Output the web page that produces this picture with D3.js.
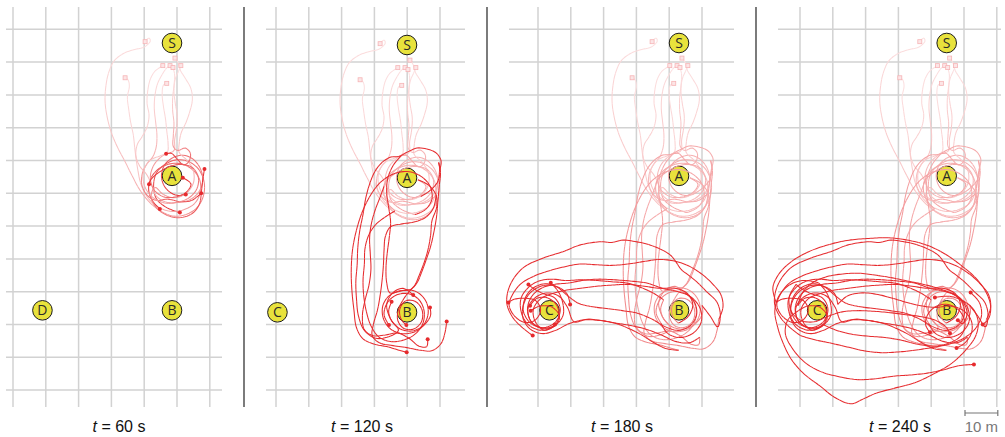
<!DOCTYPE html>
<html><head><meta charset="utf-8">
<script src="https://cdn.jsdelivr.net/npm/d3@7"></script>
<style>
html,body{margin:0;padding:0;background:#fff;}
svg{display:block;}
</style></head>
<body>
<svg id="chart" width="1005" height="437"></svg>
<script>
// ---- data (metres; origin at S, x to the right, y downward) ----
const panelTimes = [60, 120, 180, 240];
const landmarkX = [0, 0, 0, -39.5];
const landmarkY = [0, 40.5, 81.5, 81.5];
const panelLabels = [["S","A","B","D"], ["S","A","B","C"], ["S","A","B","C"], ["S","A","B","C"]];
const scaleBarMetres = 10;
const scaleBarLabel = "10 m";

// 0–60 s: from the start squares to A
const leg0to60 = [
  [[-8.2,-0.4],[-7.0,-1.6],[-6.6,-0.6],[-8.4,1.2],[-11.5,2.0],[-14.8,3.2],[-17.6,5.4],[-19.3,9.0],[-20.2,13.5],[-20.4,18.0],[-19.8,22.4],[-18.6,27.0],[-16.8,31.4],[-14.5,35.8],[-12.2,40.4],[-9.8,44.8],[-6.8,48.6],[-3.2,51.4],[0.6,52.8],[4.5,52.2],[7.8,50.0],[9.6,46.5],[9.8,42.4],[8.2,38.6],[5.2,36.2],[1.6,35.6],[-1.8,36.8],[-4.6,39.4],[-5.6,43.0],[-4.8,47.4],[-1.6,50.2],[2.4,51.7]],
  [[-14.3,10.6],[-13.4,11.2],[-13.0,13.2],[-13.6,16.4],[-13.2,20.2],[-12.6,24.2],[-11.8,28.0],[-11.4,31.6],[-11.0,35.0],[-10.4,38.8],[-9.6,42.6],[-8.0,46.2],[-5.2,49.4],[-1.2,51.2],[3.0,51.0],[6.8,49.0],[8.6,45.6],[8.4,41.6],[6.0,38.4],[2.6,36.8],[-1.2,37.0],[-4.6,38.8],[-6.8,42.0],[-7.0,45.6],[-5.6,48.6],[-3.7,50.6]],
  [[-2.8,6.9],[-3.6,7.4],[-5.2,8.6],[-6.6,11.0],[-7.4,14.6],[-7.6,18.4],[-7.0,22.0],[-7.6,25.6],[-9.0,28.4],[-10.6,31.0],[-11.0,34.4],[-9.8,37.6],[-7.8,40.0],[-6.2,43.2],[-5.0,46.4],[-2.2,48.4],[1.6,48.6],[5.4,47.8],[8.2,45.4],[9.4,41.8],[8.6,38.2],[6.4,35.4],[3.4,34.2],[0.2,35.0],[-2.4,37.4],[-3.2,41.0],[-1.8,44.4],[1.2,46.4],[4.2,46.2]],
  [[-0.6,6.9],[-1.6,7.6],[-3.0,9.6],[-4.4,12.4],[-5.2,16.0],[-5.4,20.0],[-5.0,24.0],[-4.6,28.0],[-4.8,31.6],[-5.8,34.6],[-7.6,36.8],[-9.0,39.6],[-9.2,43.2],[-7.6,46.4],[-4.8,48.0],[-1.4,47.6],[2.6,48.4],[6.0,48.0],[8.9,45.8]],
  [[0.9,4.6],[1.8,5.8],[2.6,8.4],[4.2,11.0],[5.8,14.0],[6.2,17.4],[5.4,21.0],[4.2,24.4],[2.8,27.4],[2.2,30.6],[2.2,33.4],[4.4,35.6],[6.4,38.6],[6.6,42.4],[4.6,45.6],[1.0,47.2],[-2.6,46.2],[-5.2,44.0],[-6.4,47.0],[-4.4,50.6],[-0.8,52.8],[3.0,53.2],[6.4,51.8],[8.4,49.0],[9.0,45.0],[9.4,41.6],[9.9,38.4]],
  [[2.7,6.9],[2.0,8.6],[1.0,11.0],[0.6,14.6],[1.0,18.4],[1.6,22.2],[1.4,26.0],[0.8,29.6],[0.6,32.8],[-2.6,34.2],[-5.4,37.0],[-6.6,40.8],[-5.6,44.6],[-2.8,46.8],[0.8,47.0],[4.2,45.6],[5.8,43.0],[3.3,41.1]],
  [[-1.6,12.3],[-2.6,12.8],[-3.0,15.6],[-2.6,19.4],[-2.0,23.0],[-1.6,26.8],[-1.2,30.6],[-1.4,33.2],[-3.6,34.4],[-6.4,35.6],[-8.4,38.2],[-8.8,41.6],[-7.8,44.8],[-5.4,47.4],[-2.0,48.8],[1.6,48.6],[5.2,47.2],[7.6,44.4],[8.0,40.8],[6.2,38.0],[3.0,37.0],[-0.6,37.6],[-4.2,39.6],[-6.4,41.6],[-7.0,43.1]],
  [[0.3,7.5],[0.8,9.6],[0.6,13.0],[0.2,16.8],[0.2,20.6],[0.6,24.4],[0.4,28.2],[0.4,31.6],[1.8,32.8],[4.0,32.0],[5.6,33.6],[5.2,36.0],[3.6,37.2],[1.6,35.4],[-0.2,33.6],[-1.8,33.8]]
];

// 60–120 s: from A to B
const leg60to120 = [
  [[5.6,50.2],[7.6,47.0],[7.0,43.0],[4.2,40.0],[0.4,38.6],[-3.8,39.2],[-7.8,41.6],[-11.0,45.6],[-13.6,50.8],[-15.4,56.4],[-16.6,62.4],[-17.0,68.6],[-16.8,74.8],[-16.2,80.6],[-15.4,86.2],[-13.4,89.6],[-10.0,91.2],[-6.0,92.0],[-2.6,93.0],[-0.1,93.7]],
  [[-6.6,52.4],[-9.4,54.6],[-11.6,57.8],[-12.8,62.0],[-13.0,66.8],[-13.4,71.6],[-13.2,76.4],[-12.4,81.2],[-11.0,85.6],[-8.6,89.0],[-5.0,90.4],[-1.2,90.0],[2.4,88.2],[4.8,85.0],[5.2,81.0],[3.6,77.6],[0.4,75.8],[-3.2,76.2],[-6.0,78.6],[-7.0,82.2],[-5.5,85.4]],
  [[7.0,44.4],[9.4,41.6],[10.0,38.2],[9.6,35.6],[10.2,38.8],[9.8,43.2],[9.4,48.0],[9.0,52.4],[8.2,57.0],[7.2,61.4],[5.8,65.6],[4.4,69.4],[3.0,72.6],[1.0,74.6],[-2.4,75.0],[-5.6,76.6],[-7.4,79.6],[-7.2,83.4],[-5.0,86.6],[-1.4,88.0],[2.4,87.4],[5.6,85.0],[7.2,82.4],[7.0,80.0]],
  [[8.0,49.8],[5.6,52.6],[2.0,54.0],[-1.8,54.6],[-5.0,55.4],[-6.6,58.4],[-7.0,62.6],[-7.2,67.2],[-7.6,71.8],[-8.2,76.4],[-9.0,80.8],[-10.2,85.0],[-10.6,88.6],[-8.4,90.8],[-4.6,91.6],[-0.4,92.2],[3.8,93.0],[7.6,93.2],[10.4,91.0],[11.6,87.6],[12.1,84.3]],
  [[10.4,35.4],[9.0,33.0],[6.4,31.8],[3.2,31.4],[0.2,32.6],[-2.6,34.0],[-5.0,34.2],[-7.6,35.8],[-9.8,38.6],[-11.4,42.4],[-12.6,46.8],[-13.4,51.6],[-14.4,56.6],[-15.0,61.8],[-15.2,67.0],[-15.6,72.2],[-15.4,77.4],[-14.8,82.6],[-13.0,87.0],[-9.6,89.4],[-5.8,89.0],[-2.6,87.0],[-5.0,83.6],[-6.2,79.2],[-4.4,75.6],[-1.2,74.2],[1.9,76.2]],
  [[6.4,42.6],[8.8,45.6],[9.0,49.6],[7.6,53.6],[7.2,58.0],[6.4,62.4],[5.2,66.4],[3.8,70.0],[2.4,73.2],[0.8,75.0],[-1.0,77.4],[-2.6,80.6],[-2.8,84.0],[-1.0,86.4],[2.0,86.6],[4.4,84.4],[4.6,80.8],[2.6,78.2],[-0.4,78.0],[-2.2,80.6],[-1.8,83.6],[-0.2,85.4]],
  [[-8.2,46.4],[-9.6,50.0],[-10.8,54.2],[-11.4,58.8],[-11.2,63.6],[-11.0,68.4],[-11.6,73.2],[-12.8,77.8],[-13.6,82.6],[-13.0,86.8],[-10.4,88.6],[-6.6,88.4],[-3.0,87.8],[0.6,89.4],[3.6,91.8],[6.0,92.0],[6.3,89.7]],
  [[-4.0,36.4],[-5.8,40.4],[-6.2,44.8],[-5.6,49.4],[-5.0,54.0],[-5.4,58.6],[-6.0,63.2],[-6.4,67.8],[-6.2,72.4],[-5.2,75.6],[-2.6,75.2],[0.6,74.6],[3.8,75.8],[6.0,78.6],[6.4,82.2],[4.8,85.6],[1.6,87.2],[-2.0,86.6],[-4.6,84.2],[-5.6,81.2],[-4.7,78.3]]
];

// 120–180 s: from B to C
const leg120to180 = [
  [[-3.8,93.2],[-7.6,91.4],[-11.4,89.0],[-15.4,87.0],[-19.6,85.4],[-23.8,84.6],[-28.0,84.2],[-32.0,85.0],[-34.0,80.6],[-36.6,77.2],[-40.2,76.2],[-43.8,77.6],[-46.0,80.8],[-45.2,84.8],[-41.8,87.0],[-38.0,86.4],[-36.4,83.4],[-38.6,80.6],[-42.4,80.2],[-45.2,81.6]],
  [[-3.4,88.6],[0.4,89.8],[4.4,88.4],[6.8,85.0],[6.4,80.8],[3.6,77.4],[-0.4,75.8],[-5.0,74.8],[-9.8,73.2],[-14.6,72.6],[-19.6,72.2],[-24.6,72.0],[-29.4,72.4],[-33.8,73.2],[-38.0,73.6],[-42.0,74.8],[-45.0,77.4],[-46.2,81.2],[-45.0,85.0],[-41.8,86.8],[-38.0,86.2],[-35.4,83.2],[-35.4,79.4],[-36.8,75.8],[-39.1,73.1]],
  [[9.6,83.4],[11.8,86.6],[12.6,82.8],[11.5,78.9],[8.4,75.8],[5.4,72.8],[2.4,70.4],[0.8,69.2],[-2.7,64.6],[-8.8,61.6],[-13.0,60.6],[-17.0,60.1],[-20.6,60.8],[-24.1,60.6],[-30.2,61.6],[-35.3,63.6],[-41.5,65.6],[-47.6,68.6],[-51.5,73.8],[-52.5,79.3],[-50.6,83.8],[-47.6,86.9],[-44.6,89.2]],
  [[13.4,80.6],[12.8,76.8],[10.2,73.4],[6.6,70.2],[2.6,67.8],[-1.8,66.4],[-6.0,66.0],[-10.6,66.6],[-15.6,67.4],[-20.6,67.8],[-25.4,67.6],[-30.2,67.4],[-34.8,68.2],[-39.4,69.4],[-44.0,71.0],[-48.2,73.4],[-50.8,76.8],[-51.8,80.0],[-50.0,83.4],[-47.0,85.2],[-44.0,84.6],[-42.2,81.6],[-43.6,78.6],[-47.2,77.8],[-50.4,78.2],[-52.0,79.1]],
  [[4.6,78.8],[5.4,82.6],[3.6,86.0],[0.0,87.6],[-4.0,86.6],[-8.2,84.2],[-12.6,82.4],[-17.2,81.6],[-21.8,81.0],[-26.4,80.4],[-30.6,79.4],[-34.0,77.0],[-37.2,74.4],[-40.8,73.4],[-44.6,74.8],[-47.0,78.0],[-47.4,82.0],[-45.0,85.6],[-41.2,86.8],[-37.6,85.0],[-36.2,81.2],[-37.8,77.8],[-41.4,76.4],[-44.2,75.0],[-45.9,73.6]],
  [[2.8,83.4],[4.2,79.8],[2.6,76.4],[-1.0,74.8],[-5.6,74.8],[-10.4,74.2],[-15.4,73.6],[-20.4,73.8],[-25.4,74.2],[-30.2,74.8],[-34.6,75.4],[-38.6,76.4],[-42.2,78.0],[-44.4,81.2],[-43.8,85.0],[-41.0,87.6],[-37.8,85.8]],
  [[3.2,91.4],[-1.0,91.0],[-5.0,89.2],[-9.6,87.4],[-14.4,86.2],[-19.2,85.4],[-24.2,84.6],[-29.0,84.4],[-33.6,85.6],[-37.6,87.6],[-41.6,88.6],[-45.4,87.2],[-47.6,83.8],[-47.4,79.8],[-45.4,76.2],[-41.6,74.0],[-37.4,74.2],[-34.2,76.4],[-33.2,79.7]],
  [[-7.6,76.4],[-11.4,74.6],[-15.8,73.2],[-20.4,72.8],[-25.2,72.4],[-30.0,72.2],[-34.6,72.4],[-38.8,72.0],[-42.8,72.6],[-46.0,74.6],[-48.2,78.0],[-48.0,82.4],[-45.8,86.0],[-42.0,87.6],[-38.4,86.6],[-36.6,83.4],[-37.4,79.8],[-40.4,77.6],[-43.6,78.0],[-45.4,80.1]]
];

// 180–240 s: from C back to B
const leg180to240 = [
  [[-48.4,84.4],[-49.2,88.6],[-47.0,93.2],[-43.2,97.4],[-38.4,100.2],[-33.0,101.7],[-27.6,102.6],[-22.0,102.4],[-16.4,101.6],[-10.8,101.2],[-5.6,100.6],[-0.8,99.6],[3.6,98.4],[8.3,98.0]],
  [[-43.6,72.4],[-48.0,73.8],[-51.2,77.2],[-52.4,81.6],[-51.6,86.4],[-50.0,91.2],[-47.4,96.4],[-43.6,100.8],[-38.6,104.6],[-34.2,108.0],[-29.2,110.0],[-25.6,108.6],[-21.6,106.8],[-15.8,105.2],[-9.8,103.6],[-3.8,100.8],[1.6,97.6],[5.8,93.6],[8.8,89.4],[9.6,85.0],[8.0,81.0],[4.6,78.4],[0.6,77.2],[-3.6,77.6]],
  [[-40.6,90.4],[-35.8,91.4],[-30.6,92.6],[-25.4,93.8],[-20.2,94.4],[-14.8,94.2],[-9.4,93.6],[-4.2,92.8],[0.8,91.8],[5.2,90.0],[8.8,87.0],[10.6,83.2],[10.0,79.2],[7.3,76.1]],
  [[-53.0,74.6],[-51.0,70.2],[-47.0,66.4],[-42.0,63.6],[-36.4,61.6],[-30.4,60.2],[-24.0,59.6],[-17.6,59.4],[-11.4,60.2],[-5.6,61.8],[-0.4,64.4],[4.4,67.8],[8.6,71.4],[11.8,75.6],[13.4,80.2],[12.8,84.0],[11.0,85.8]],
  [[-48.0,77.4],[-47.4,81.8],[-44.4,84.6],[-40.4,85.0],[-36.4,83.4],[-32.0,82.0],[-27.2,81.6],[-22.2,81.8],[-17.4,82.2],[-12.6,82.8],[-8.0,83.4],[-3.8,84.4],[-0.4,86.4],[1.0,88.5]],
  [[-33.6,87.6],[-28.8,88.8],[-23.8,89.4],[-18.8,89.8],[-13.8,90.6],[-9.0,91.8],[-4.2,92.4],[0.4,91.6],[4.2,89.4],[5.6,85.8],[4.2,82.0],[0.8,79.8],[-3.0,80.2],[-5.8,82.8],[-6.4,86.0],[-5.1,88.2]],
  [[-30.4,77.2],[-26.2,76.2],[-21.4,76.6],[-16.6,77.8],[-11.8,79.2],[-7.4,80.2],[-3.2,80.6],[1.0,80.2],[4.8,81.4],[7.4,84.4],[7.6,88.2],[5.6,91.4],[3.0,93.0]],
  [[-44.0,76.2],[-40.8,73.0],[-36.4,71.2],[-31.6,70.4],[-26.6,70.2],[-21.6,70.8],[-16.6,71.6],[-11.8,72.6],[-7.0,73.6],[-2.6,74.8],[1.6,76.4],[5.0,79.0],[6.2,82.6],[4.8,85.6],[3.4,84.5]]
];

const legs = [leg0to60, leg60to120, leg120to180, leg180to240];

// ---- layout ----
const W = 1005, H = 437;
const PX_PER_M = 3.28;
const GRID_M = 10;
const panels = [
  {sx: 172,   sy: 43, gridX: 13,  cols: 7, hx0: 6,   hx1: 222,  titleX: 119},
  {sx: 407,   sy: 45, gridX: 276, cols: 6, hx0: 266, hx1: 465,  titleX: 362},
  {sx: 679,   sy: 43, gridX: 538, cols: 6, hx0: 509, hx1: 734,  titleX: 622},
  {sx: 946.7, sy: 43, gridX: 800, cols: 7, hx0: 778, hx1: 1001, titleX: 900}
];
const gridTop = 7, gridBottom = 407, firstRowY = 29.3, rows = 12;
const separators = [244, 487, 756];

const RED = "#e62a2d";
const mix = d3.interpolateRgb("#ffffff", RED);

function legShade(panelIdx, phase, f) {
  if (phase === panelIdx) return panelIdx === 0 ? 0.16 + 0.84 * Math.pow(f, 1.8) : 1;
  if (phase === 0) return 0.14 + 0.3 * f;
  if (phase === 1) return 0.38 + 0.22 * f;
  return 1;
}

const svg = d3.select("#chart");

panels.forEach((p, pi) => {
  const x = d3.scaleLinear().domain([0, 1]).range([p.sx, p.sx + PX_PER_M]);
  const y = d3.scaleLinear().domain([0, 1]).range([p.sy, p.sy + PX_PER_M]);
  const g = svg.append("g");

  // grid
  const gx0 = x.invert(p.gridX);
  const gy0 = y.invert(firstRowY);
  const grid = g.append("g").attr("stroke", "#d2d2d2").attr("stroke-width", 1.5);
  d3.range(p.cols).forEach(k => {
    const xx = x(gx0 + k * GRID_M);
    grid.append("line").attr("x1", xx).attr("x2", xx).attr("y1", gridTop).attr("y2", gridBottom);
  });
  d3.range(rows).forEach(k => {
    const yy = y(gy0 + k * GRID_M);
    grid.append("line").attr("x1", p.hx0).attr("x2", p.hx1).attr("y1", yy).attr("y2", yy);
  });

  // landmarks
  const lm = g.append("g");
  panelLabels[pi].forEach((name, i) => {
    lm.append("circle").attr("cx", x(landmarkX[i])).attr("cy", y(landmarkY[i])).attr("r", 9.8)
      .attr("fill", "#e8e23c").attr("stroke", "#1c1c1c").attr("stroke-width", 1);
    lm.append("text").attr("x", x(landmarkX[i])).attr("y", y(landmarkY[i])).attr("dy", "0.36em")
      .attr("text-anchor", "middle").attr("font-family", "Open Sans, sans-serif").attr("font-size", 14)
      .attr("fill", "#2a2a2a").text(name);
  });

  const line = d3.line().x(d => x(d[0])).y(d => y(d[1])).curve(d3.curveCatmullRom.alpha(0.5));
  const paths = g.append("g").attr("fill", "none").attr("stroke-width", 1.05)
    .attr("stroke-linejoin", "round").attr("stroke-linecap", "butt");

  for (let phase = 0; phase <= pi; phase++) {
    legs[phase].forEach((pts, ti) => {
      const full = phase > 0 ? [legs[phase - 1][ti][legs[phase - 1][ti].length - 1]].concat(pts) : pts;
      const tmp = paths.append("path").attr("d", line(full));
      const node = tmp.node();
      const L = node.getTotalLength();
      const step = 2, per = 3;
      const samples = [];
      for (let s = 0; s < L; s += step) samples.push(node.getPointAtLength(s));
      samples.push(node.getPointAtLength(L));
      tmp.remove();
      for (let i = 0; i < samples.length - 1; i += per) {
        const seg = samples.slice(i, Math.min(i + per + 1, samples.length));
        const f = Math.min(1, (i + per / 2) * step / L);
        paths.append("polyline")
          .attr("points", seg.map(q => q.x.toFixed(2) + "," + q.y.toFixed(2)).join(" "))
          .attr("stroke", mix(legShade(pi, phase, f)));
      }
    });
    if (phase === 0) {
      // start markers
      g.append("g").selectAll("rect").data(leg0to60).join("rect")
        .attr("x", d => x(d[0][0]) - 2).attr("y", d => y(d[0][1]) - 2)
        .attr("width", 4).attr("height", 4)
        .attr("fill", mix(0.12)).attr("stroke", mix(0.35)).attr("stroke-width", 0.8);
    }
  }

  // current positions
  g.append("g").selectAll("circle").data(legs[pi]).join("circle")
    .attr("cx", d => x(d[d.length - 1][0])).attr("cy", d => y(d[d.length - 1][1]))
    .attr("r", 2).attr("fill", RED);

  // title
  const t = g.append("text").attr("x", p.titleX).attr("y", 432).attr("text-anchor", "middle")
    .attr("font-family", "Liberation Sans, Arial, sans-serif").attr("font-size", 16).attr("fill", "#111");
  t.append("tspan").attr("font-style", "italic").text("t");
  t.append("tspan").text(" = " + panelTimes[pi] + " s");

  // scale bar in the last panel
  if (pi === panels.length - 1) {
    const sb = g.append("g").attr("stroke", "#777").attr("stroke-width", 1.2);
    const bx0 = 965, by = 413;
    const bx1 = bx0 + (x(scaleBarMetres) - x(0));
    sb.append("line").attr("x1", bx0).attr("x2", bx1).attr("y1", by).attr("y2", by);
    sb.append("line").attr("x1", bx0).attr("x2", bx0).attr("y1", by - 3).attr("y2", by + 3);
    sb.append("line").attr("x1", bx1).attr("x2", bx1).attr("y1", by - 3).attr("y2", by + 3);
    g.append("text").attr("x", (bx0 + bx1) / 2).attr("y", 432).attr("text-anchor", "middle")
      .attr("font-family", "Liberation Sans, Arial, sans-serif").attr("font-size", 15)
      .attr("fill", "#777").text(scaleBarLabel);
  }
});

// panel separators
svg.append("g").attr("stroke", "#444").attr("stroke-width", 1.4)
  .selectAll("line").data(separators).join("line")
  .attr("x1", d => d).attr("x2", d => d).attr("y1", gridTop).attr("y2", gridBottom);
</script>
</body></html>
